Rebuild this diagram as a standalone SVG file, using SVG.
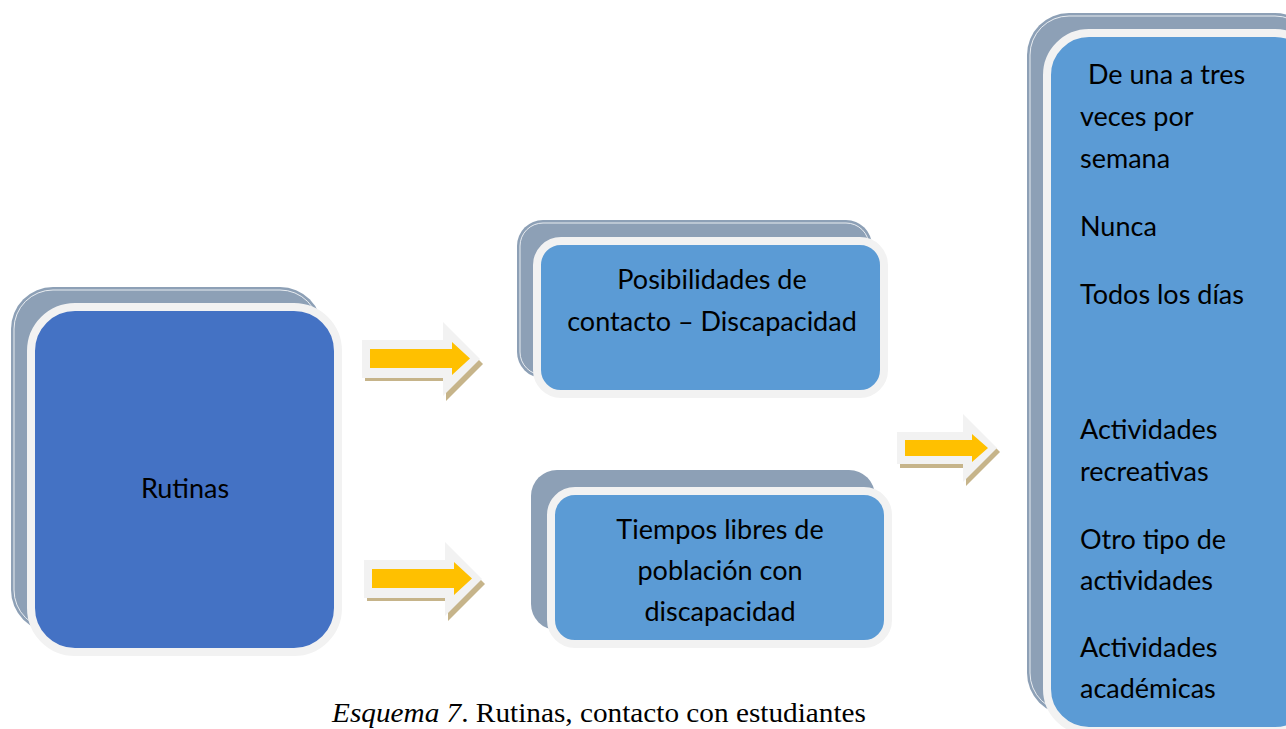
<svg xmlns="http://www.w3.org/2000/svg" width="1286" height="729" viewBox="0 0 1286 729">
<defs>
<style>
.back{fill:#8DA0B6;}
.backline{fill:none;stroke:#FFFFFF;stroke-width:1;stroke-opacity:0.8;}
.frontD{fill:#4472C4;stroke:#F2F2F2;stroke-width:8;}
.frontL{fill:#5B9BD5;stroke:#F2F2F2;stroke-width:8;}
.lbl{font-family:Lato,Carlito,"Open Sans",sans-serif;font-size:27px;fill:#000000;}
.mid{text-anchor:middle;}
.cap{font-family:"Liberation Serif","Times New Roman",serif;font-size:27px;fill:#000000;}
.ashadow{fill:#C6B48A;}
.aouter{fill:#F2F2F2;}
.ainner{fill:#FFC000;}
</style>
</defs>
<rect width="1286" height="729" fill="#FFFFFF"/>

<g id="node-rutinas">
<rect class="back" x="11" y="287" width="311" height="345" rx="42"/>
<rect class="backline" x="14" y="290" width="305" height="339" rx="39"/>
<rect class="frontD" x="31" y="307" width="307" height="345" rx="44"/>
<text class="lbl mid" x="185" y="498">Rutinas</text>
</g>

<g id="node-posibilidades">
<rect class="back" x="517" y="220" width="355" height="158" rx="26"/>
<rect class="backline" x="520" y="223" width="349" height="152" rx="23"/>
<rect class="frontL" x="537" y="241" width="347" height="153" rx="24"/>
<text class="lbl mid" x="712" y="289">Posibilidades de</text>
<text class="lbl mid" x="712" y="331">contacto – Discapacidad</text>
</g>

<g id="node-tiempos">
<rect class="back" x="531" y="470" width="344" height="160" rx="26"/>
<rect class="frontL" x="551" y="491" width="337" height="153" rx="24"/>
<text class="lbl mid" x="720" y="539">Tiempos libres de</text>
<text class="lbl mid" x="720" y="580">población con</text>
<text class="lbl mid" x="720" y="621">discapacidad</text>
</g>

<g id="node-frecuencia">
<rect class="back" x="1027" y="13" width="290" height="702" rx="42"/>
<rect class="backline" x="1030" y="16" width="284" height="696" rx="39"/>
<rect class="frontL" x="1047" y="33" width="270" height="698" rx="42"/>
<text class="lbl" x="1088" y="84">De una a tres</text>
<text class="lbl" x="1080" y="126">veces por</text>
<text class="lbl" x="1080" y="168">semana</text>
<text class="lbl" x="1080" y="236">Nunca</text>
<text class="lbl" x="1080" y="304">Todos los días</text>
<text class="lbl" x="1080" y="439">Actividades</text>
<text class="lbl" x="1080" y="481">recreativas</text>
<text class="lbl" x="1080" y="549">Otro tipo de</text>
<text class="lbl" x="1080" y="590">actividades</text>
<text class="lbl" x="1080" y="657">Actividades</text>
<text class="lbl" x="1080" y="698">académicas</text>
</g>

<g id="connectors">
<g id="arrow-1">
<polygon class="ashadow" points="365,344 446,344 446,327 483,364 446,401 446,381 365,381"/>
<polygon class="aouter" points="362,340 443,340 443,322 480,359 443,396 443,378 362,378"/>
<polygon class="ainner" points="370,349 452,349 452,342 470,358.5 452,375 452,368 370,368"/>
</g>
<g id="arrow-2" transform="translate(2,220)">
<polygon class="ashadow" points="365,344 446,344 446,327 483,364 446,401 446,381 365,381"/>
<polygon class="aouter" points="362,340 443,340 443,322 480,359 443,396 443,378 362,378"/>
<polygon class="ainner" points="370,349 452,349 452,342 470,358.5 452,375 452,368 370,368"/>
</g>
<g id="arrow-3">
<polygon class="ashadow" points="900,436 966,436 966,418 1000,452 966,486 966,468 900,468"/>
<polygon class="aouter" points="897,432 963,432 963,414 997,448 963,482 963,464 897,464"/>
<polygon class="ainner" points="905,440 972,440 972,434 988,448 972,462 972,456 905,456"/>
</g>
</g>

<g id="caption">
<text class="cap" x="332" y="722" textLength="534" lengthAdjust="spacingAndGlyphs"><tspan font-style="italic">Esquema 7</tspan>. Rutinas, contacto con estudiantes</text>
</g>
</svg>
